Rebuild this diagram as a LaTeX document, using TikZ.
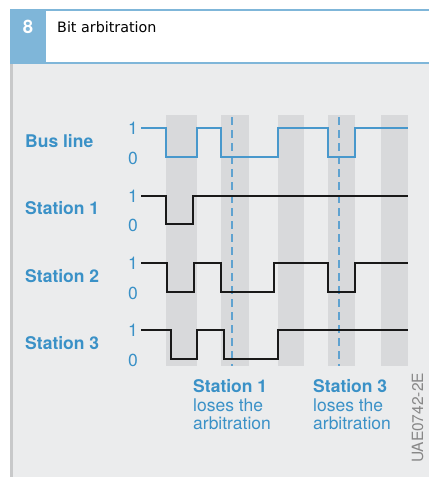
\documentclass[tikz,border=0pt]{standalone}
\usepackage{fontspec}
\setmainfont{TeX Gyre Heros}
\newfontfamily\hdrfont{DejaVu Sans}
\definecolor{hblue}{RGB}{127,182,217}
\definecolor{lblue}{RGB}{58,145,199}
\definecolor{busblue}{RGB}{72,152,204}
\definecolor{dashblue}{RGB}{95,162,208}
\definecolor{bggray}{RGB}{235,236,237}
\definecolor{stripe}{RGB}{216,217,219}
\definecolor{edgegray}{RGB}{200,201,202}
\definecolor{codegray}{RGB}{135,135,135}
\begin{document}
\begin{tikzpicture}[x=1pt,y=-1pt,
  rowlabel/.style={anchor=base west, text=lblue, font=\bfseries\fontsize{17.5}{17.5}\selectfont, inner sep=0pt},
  digit/.style={anchor=base, text=lblue, font=\fontsize{17.5}{17.5}\selectfont, inner sep=0pt},
  sig/.style={line width=1.5pt, black!90, line join=miter},
  bus/.style={line width=1.8pt, busblue},
  marker/.style={line width=1.2pt, dashblue, dash pattern=on 8pt off 5pt},
  note/.style={anchor=base west, text=lblue, font=\fontsize{17.5}{17.5}\selectfont, inner sep=0pt},
  notehead/.style={note, font=\bfseries\fontsize{17.5}{17.5}\selectfont}]
\useasboundingbox (0,0) rectangle (429,477);
\fill[white] (0,0) rectangle (429,477);
% panel
\fill[bggray] (10,63) rectangle (429,477);
\fill[edgegray] (10,63) rectangle (12.5,477);
% header
\fill[hblue] (10,9.3) rectangle (429,11.2);
\fill[hblue] (10,61.7) rectangle (429,63.8);
\fill[hblue] (10,9.3) rectangle (46,63.8);
\node[anchor=base, text=white, font=\bfseries\fontsize{18.5}{18.5}\selectfont, inner sep=0pt] (num) at (28,33.4) {8};
\node[anchor=base west, inner sep=0pt, font=\hdrfont\fontsize{14.3}{14.3}\selectfont] (title) at (57,32.3) {Bit arbitration};
% stripes
\foreach \a/\b in {166/197,221/249,278/304,328/355,381/408}
  \fill[stripe] (\a,115) rectangle (\b,366);
% markers
\draw[marker] (232,117) -- (232,366);
\draw[marker] (339,117) -- (339,366);
% row labels
\node[rowlabel] (lbus) at (25,147.7) {Bus line};
\node[rowlabel] (ls1) at (25,214.5) {Station 1};
\node[rowlabel] (ls2) at (25,282) {Station 2};
\node[rowlabel] (ls3) at (25,349.7) {Station 3};
% digits
\foreach \n/\hi/\lo in {b/128/157,s1/196/224,s2/263/292,s3/330/359}{
  \node[digit] (one\n) at (133,\hi+6.8) {1};
  \node[digit] (zero\n) at (133,\lo+7.3) {0};
}
% signals
\draw[bus] (141,128) -- (166,128) -- (166,157) -- (197,157) -- (197,128) -- (221,128) -- (221,157) -- (278,157) -- (278,128) -- (328,128) -- (328,157) -- (355,157) -- (355,128) -- (408,128);
\draw[sig] (141,196) -- (166,196) -- (166,224) -- (193,224) -- (193,196) -- (408,196);
\draw[sig] (141,263) -- (167,263) -- (167,292) -- (194,292) -- (194,263) -- (221,263) -- (221,292) -- (274,292) -- (274,263) -- (328,263) -- (328,292) -- (355,292) -- (355,263) -- (408,263);
\draw[sig] (141,330) -- (171,330) -- (171,359) -- (197,359) -- (197,330) -- (224,330) -- (224,359) -- (278,359) -- (278,330) -- (408,330);
% notes
\node[notehead] (n1a) at (193,392.5) {Station 1};
\node[note] (n1b) at (193,411.3) {loses the};
\node[note] (n1c) at (193,429.3) {arbitration};
\node[notehead] (n3a) at (313,392.5) {Station 3};
\node[note] (n3b) at (313,411.3) {loses the};
\node[note] (n3c) at (313,429.3) {arbitration};
% code
\node[rotate=90, text=codegray, font=\fontsize{15.5}{15.5}\selectfont, inner sep=0pt] (code) at (417.5,418) {UAE0742-2E};
\end{tikzpicture}
\end{document}
